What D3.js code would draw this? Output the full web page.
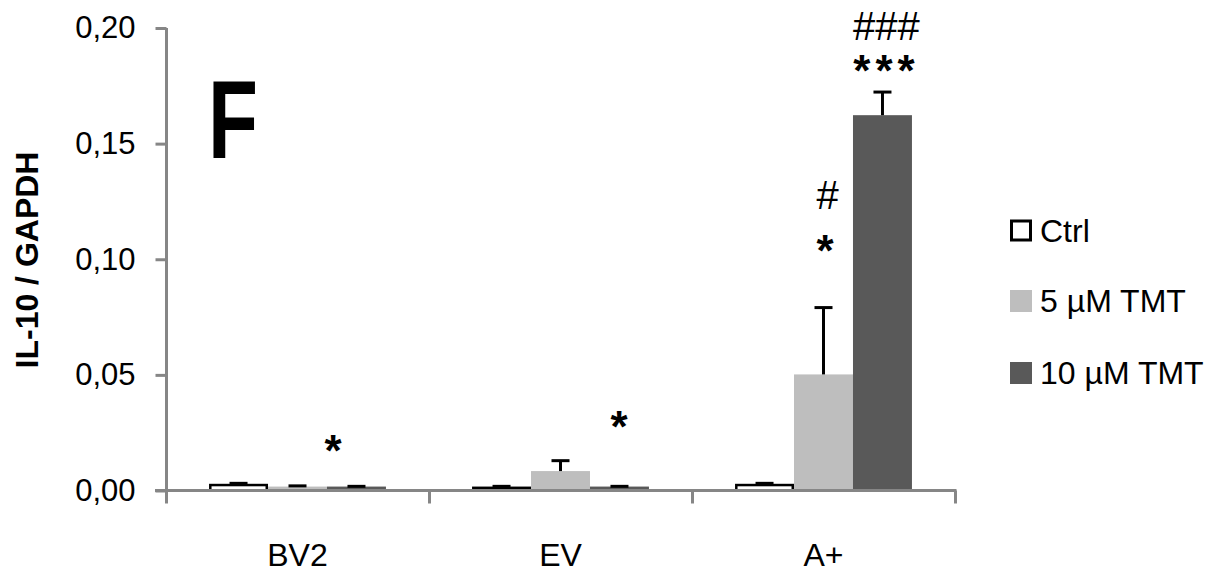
<!DOCTYPE html>
<html>
<head>
<meta charset="utf-8">
<script src="https://cdn.jsdelivr.net/npm/d3@7"></script>
<style>
  html, body { margin: 0; padding: 0; background: #fff; }
  svg { display: block; }
  text { font-family: "Liberation Sans", Arial, sans-serif; fill: #000; }
</style>
</head>
<body>
<svg id="chart" width="1213" height="572"></svg>
<script>
// ---- data ----
const categories = ["BV2", "EV", "A+"];
const seriesNames = ["Ctrl", "5 µM TMT", "10 µM TMT"];
const ctrlValues  = [0.0029, 0.0017, 0.0029];
const tmt5Values  = [0.0017, 0.0084, 0.0502];
const tmt10Values = [0.0017, 0.0017, 0.1623];
const ctrlErrors  = [0.0002, 0.0001, 0.0002];
const tmt5Errors  = [0.0003, 0.0045, 0.0289];
const tmt10Errors = [0.0001, 0.0001, 0.0100];
const yTickValues = [0, 0.05, 0.10, 0.15, 0.20];
const yTitle = "IL-10 / GAPDH";
const panelLetter = "F";
// significance labels: category, series, text, label level (y units)
const annCategories = ["BV2", "EV", "A+", "A+", "A+", "A+"];
const annSeries     = ["10 µM TMT", "10 µM TMT", "5 µM TMT", "5 µM TMT", "10 µM TMT", "10 µM TMT"];
const annTexts      = ["*", "*", "*", "#", "***", "###"];
const annLevels     = [0.0209, 0.0313, 0.1075, 0.1268, 0.1854, 0.2];

const seriesValues = [ctrlValues, tmt5Values, tmt10Values];
const seriesErrors = [ctrlErrors, tmt5Errors, tmt10Errors];
const fills   = ["#ffffff", "#bebebe", "#595959"];
const strokes = ["#000000", "none", "none"];

const svg = d3.select("#chart");
svg.append("rect").attr("width", 1213).attr("height", 572).attr("fill", "#fff");

const x0 = d3.scaleBand().domain(categories).range([166, 955]).padding(0);
const x1 = d3.scaleBand().domain(seriesNames).range([0, x0.bandwidth()]).paddingInner(0).paddingOuter(0.73);
const y = d3.scaleLinear().domain([0, 0.2]).range([490.5, 28]);

const rows = [];
categories.forEach((c, i) => {
  seriesNames.forEach((s, j) => {
    rows.push({ cat: c, ser: s, j, v: seriesValues[j][i], e: seriesErrors[j][i] });
  });
});

// bars
const g = svg.append("g");
g.selectAll("rect.bar").data(rows).enter().append("rect")
  .attr("class", "bar")
  .attr("x", d => x0(d.cat) + x1(d.ser) + (d.j === 0 ? 1.25 : 0))
  .attr("width", d => x1.bandwidth() - (d.j === 0 ? 2.5 : 0))
  .attr("y", d => y(d.v) + (d.j === 0 ? 1.25 : 0))
  .attr("height", d => Math.max(0, y(0) - y(d.v) - (d.j === 0 ? 1.25 : 0)))
  .attr("fill", d => fills[d.j])
  .attr("stroke", d => strokes[d.j])
  .attr("stroke-width", 2.5);

// error bars (upper only)
const cap = 9;
const eb = g.selectAll("g.err").data(rows).enter().append("g").attr("class", "err");
eb.append("line")
  .attr("x1", d => x0(d.cat) + x1(d.ser) + x1.bandwidth() / 2)
  .attr("x2", d => x0(d.cat) + x1(d.ser) + x1.bandwidth() / 2)
  .attr("y1", d => y(d.v))
  .attr("y2", d => y(d.v + d.e))
  .attr("stroke", "#000").attr("stroke-width", 3);
eb.append("line")
  .attr("x1", d => x0(d.cat) + x1(d.ser) + x1.bandwidth() / 2 - cap)
  .attr("x2", d => x0(d.cat) + x1(d.ser) + x1.bandwidth() / 2 + cap)
  .attr("y1", d => y(d.v + d.e))
  .attr("y2", d => y(d.v + d.e))
  .attr("stroke", "#000").attr("stroke-width", 3);

// y axis
const yAxis = d3.axisLeft(y).tickValues(yTickValues).tickSize(11).tickPadding(20)
  .tickFormat(d => d3.format(".2f")(d).replace(".", ","));
const ya = svg.append("g").attr("transform", "translate(166.5,0)").call(yAxis);
ya.select(".domain").remove();
ya.selectAll(".tick line").attr("stroke", "#868686").attr("stroke-width", 3);
ya.selectAll(".tick text").style("font-size", "31px").attr("fill", "#000");
svg.append("line").attr("x1", 166.5).attr("x2", 166.5).attr("y1", y(0.2)).attr("y2", y(0))
  .attr("stroke", "#868686").attr("stroke-width", 3);

// x axis
svg.append("line").attr("x1", 155).attr("x2", x0.range()[1] + 1.5).attr("y1", y(0)).attr("y2", y(0))
  .attr("stroke", "#868686").attr("stroke-width", 3);
const bounds = categories.map(c => x0(c)).concat([x0.range()[1]]);
svg.selectAll("line.xtick").data(bounds).enter().append("line").attr("class", "xtick")
  .attr("x1", d => d + 0.5).attr("x2", d => d + 0.5)
  .attr("y1", y(0)).attr("y2", y(0) + 13)
  .attr("stroke", "#868686").attr("stroke-width", 3);
const xAxis = d3.axisBottom(x0).tickSize(0).tickPadding(53);
const xa = svg.append("g").attr("transform", `translate(0,${y(0)})`).call(xAxis);
xa.select(".domain").remove();
xa.selectAll(".tick text").style("font-size", "32px").attr("fill", "#000");

// y title
svg.append("text")
  .attr("transform", "translate(38,260) rotate(-90)")
  .attr("text-anchor", "middle")
  .style("font-size", "32px").style("font-weight", "bold")
  .text(yTitle);

// panel letter
svg.append("text")
  .attr("transform", "translate(208,158) scale(0.73,1)")
  .style("font-size", "112px").style("font-weight", "bold")
  .text(panelLetter);

// annotations
const anns = annTexts.map((t, i) => ({ cat: annCategories[i], ser: annSeries[i], t, lv: annLevels[i] }));
const annDx = { "BV2": -21, "EV": 2, "A+": 4 };
svg.selectAll("text.ann").data(anns).enter().append("text")
  .attr("class", "ann")
  .attr("x", d => x0(d.cat) + x1(d.ser) + x1.bandwidth() / 2 + annDx[d.cat])
  .attr("y", d => d.t.startsWith("*") ? y(d.lv) + 24 : y(d.lv) + 12)
  .attr("text-anchor", "middle")
  .style("font-size", d => d.t.startsWith("*") ? "44px" : "40px")
  .style("font-weight", d => d.t.startsWith("*") ? "bold" : "normal")
  .style("letter-spacing", d => d.t.startsWith("*") ? "5px" : "0px")
  .text(d => d.t);

// legend
const legend = svg.append("g").attr("transform", "translate(1010,0)");
const legendY = [230, 300.5, 372.5];
seriesNames.forEach((s, j) => {
  legend.append("rect")
    .attr("x", j === 0 ? 1.5 : 0).attr("y", legendY[j] - 10.5 + (j === 0 ? 1.5 : 0))
    .attr("width", j === 0 ? 19 : 22).attr("height", j === 0 ? 19 : 22)
    .attr("fill", fills[j]).attr("stroke", strokes[j]).attr("stroke-width", 3);
  legend.append("text")
    .attr("x", 30).attr("y", legendY[j] + 11.5)
    .style("font-size", "32px")
    .text(s);
});
</script>
</body>
</html>
